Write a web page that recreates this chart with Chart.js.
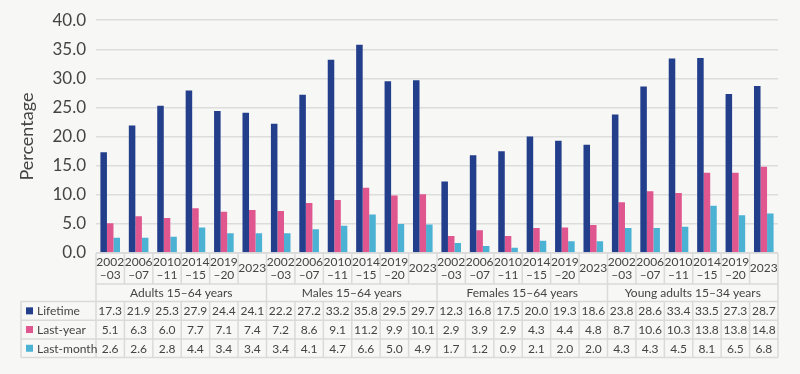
<!DOCTYPE html>
<html>
<head>
<meta charset="utf-8">
<script src="https://cdn.jsdelivr.net/npm/chart.js@4"></script>
<style>
  html, body { margin: 0; padding: 0; background: #f7f7f5; }
  #wrap { width: 800px; height: 374px; position: relative; }
</style>
</head>
<body>
<div id="wrap"><canvas id="chart"></canvas></div>
<script>
// Table / axis data
const periods = ["2002–03", "2006–07", "2010–11", "2014–15", "2019–20", "2023"];
const groups = ["Adults 15–64 years", "Males 15–64 years", "Females 15–64 years", "Young adults 15–34 years"];
const yTicks = [0, 5, 10, 15, 20, 25, 30, 35, 40];

const lifetime = [17.3, 21.9, 25.3, 27.9, 24.4, 24.1, 22.2, 27.2, 33.2, 35.8, 29.5, 29.7,
  12.3, 16.8, 17.5, 20.0, 19.3, 18.6, 23.8, 28.6, 33.4, 33.5, 27.3, 28.7];
const lastYear = [5.1, 6.3, 6.0, 7.7, 7.1, 7.4, 7.2, 8.6, 9.1, 11.2, 9.9, 10.1,
  2.9, 3.9, 2.9, 4.3, 4.4, 4.8, 8.7, 10.6, 10.3, 13.8, 13.8, 14.8];
const lastMonth = [2.6, 2.6, 2.8, 4.4, 3.4, 3.4, 3.4, 4.1, 4.7, 6.6, 5.0, 4.9,
  1.7, 1.2, 0.9, 2.1, 2.0, 2.0, 4.3, 4.3, 4.5, 8.1, 6.5, 6.8];

const labels = [];
groups.forEach((g) => periods.forEach((p) => labels.push(g + " " + p)));

const colors = {
  lifetime: "#233e8b",
  lastYear: "#e0568f",
  lastMonth: "#4cb2d4",
};

const FONT = "Lato, 'Open Sans', sans-serif";
const TEXT = "#444";
const LINE = "#dadada";

// background fill
const bgPlugin = {
  id: "bg",
  beforeDraw(chart) {
    const ctx = chart.ctx;
    ctx.save();
    ctx.fillStyle = "#f7f7f5";
    ctx.fillRect(0, 0, chart.width, chart.height);
    ctx.restore();
  },
};

// data table under the bars
const tablePlugin = {
  id: "table",
  afterDraw(chart) {
    const ctx = chart.ctx;
    const area = chart.chartArea;
    const xs = chart.scales.x;
    const n = labels.length;
    const colW = (area.right - area.left) / n;
    const left = area.left;
    const right = area.right;
    const legLeft = 21;

    const yCat = area.bottom;
    const yGrp = yCat + 31;
    const yData = yGrp + 17.5;
    const rowH = 18.7;
    const yEnd = yData + rowH * 3;

    ctx.save();
    ctx.strokeStyle = LINE;
    ctx.lineWidth = 1.5;

    const hline = (x1, x2, y) => {
      ctx.beginPath();
      ctx.moveTo(x1, y);
      ctx.lineTo(x2, y);
      ctx.stroke();
    };
    const vline = (x, y1, y2) => {
      ctx.beginPath();
      ctx.moveTo(x, y1);
      ctx.lineTo(x, y2);
      ctx.stroke();
    };

    // horizontal lines
    hline(left, right, yCat);
    hline(left, right, yGrp);
    hline(legLeft, right, yData);
    for (let r = 1; r <= 3; r++) hline(legLeft, right, yData + rowH * r);

    // vertical lines
    vline(legLeft, yData, yEnd);
    for (let i = 0; i <= n; i++) {
      const x = left + colW * i;
      if (i % periods.length === 0) {
        vline(x, yCat, yEnd);
      } else {
        vline(x, yCat, yGrp);
        vline(x, yData, yEnd);
      }
    }

    ctx.fillStyle = TEXT;
    ctx.textAlign = "center";
    ctx.textBaseline = "middle";
    ctx.font = "12px " + FONT;

    // category labels
    for (let i = 0; i < n; i++) {
      const cx = xs.getPixelForValue(i);
      const parts = periods[i % periods.length].split("–");
      if (parts.length === 2) {
        ctx.fillText(parts[0], cx, yCat + 9.5);
        ctx.fillText("–" + parts[1], cx, yCat + 22);
      } else {
        ctx.fillText(parts[0], cx, yCat + 15.5);
      }
    }

    // group labels
    groups.forEach((g, gi) => {
      const gx = left + colW * periods.length * (gi + 0.5);
      ctx.fillText(g, gx, yGrp + 9);
    });

    // data rows
    const rows = [
      ["Lifetime", lifetime, colors.lifetime],
      ["Last-year", lastYear, colors.lastYear],
      ["Last-month", lastMonth, colors.lastMonth],
    ];
    rows.forEach(([name, vals, col], r) => {
      const cy = yData + rowH * r + rowH / 2 + 0.5;
      ctx.textAlign = "center";
      ctx.fillStyle = TEXT;
      vals.forEach((v, i) => {
        ctx.fillText(v.toFixed(1), xs.getPixelForValue(i), cy);
      });
      ctx.fillStyle = col;
      ctx.fillRect(legLeft + 5, cy - 4, 7, 7);
      ctx.fillStyle = TEXT;
      ctx.textAlign = "left";
      ctx.fillText(name, legLeft + 16, cy);
    });

    ctx.restore();
  },
};

new Chart(document.getElementById("chart"), {
  type: "bar",
  data: {
    labels: labels,
    datasets: [
      { label: "Lifetime", data: lifetime, backgroundColor: colors.lifetime },
      { label: "Last-year", data: lastYear, backgroundColor: colors.lastYear },
      { label: "Last-month", data: lastMonth, backgroundColor: colors.lastMonth },
    ],
  },
  options: {
    responsive: true,
    maintainAspectRatio: false,
    animation: false,
    categoryPercentage: 0.69,
    barPercentage: 1.0,
    layout: {
      padding: { top: 10, right: 22, bottom: 121, left: 16 },
    },
    plugins: {
      legend: { display: false },
      tooltip: { enabled: false },
    },
    scales: {
      x: {
        display: false,
      },
      y: {
        min: 0,
        max: 40,
        afterBuildTicks: (scale) => {
          scale.ticks = yTicks.map((v) => ({ value: v }));
        },
        afterFit: (scale) => {
          scale.width = 80;
        },
        border: { display: false },
        grid: { color: "#dddddd", lineWidth: 1.5, drawTicks: false },
        ticks: {
          padding: 10,
          color: TEXT,
          font: { family: FONT, size: 17 },
          callback: (v) => Number(v).toFixed(1),
        },
        title: {
          display: true,
          text: "Percentage",
          color: TEXT,
          font: { family: FONT, size: 18 },
          padding: { top: 0, bottom: 0 },
        },
      },
    },
  },
  plugins: [bgPlugin, tablePlugin],
});
</script>
</body>
</html>
